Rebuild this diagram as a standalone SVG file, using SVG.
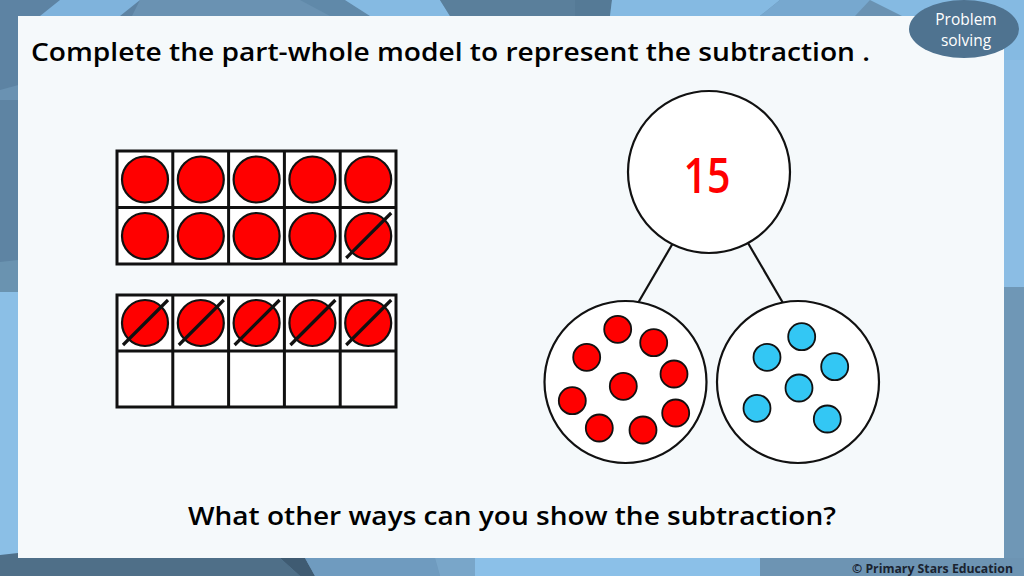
<svg xmlns="http://www.w3.org/2000/svg" xmlns:xlink="http://www.w3.org/1999/xlink" width="1024" height="576" viewBox="0 0 1024 576">
<style>
.frame{fill:#ffffff;stroke:#111111;stroke-width:3}
.cell{fill:none;stroke:#111111;stroke-width:3}
.counter{fill:#ff0000;stroke:#111111;stroke-width:2.2}
.strike{stroke:#111111;stroke-width:3.2;stroke-linecap:butt}
.pw{fill:#ffffff;stroke:#111111;stroke-width:2.2}
.conn{stroke:#111111;stroke-width:2.2}
.red{fill:#ff0000;stroke:#111111;stroke-width:1.8}
.blue{fill:#33c7f4;stroke:#111111;stroke-width:1.8}
.txt{font-family:"Open Sans","Noto Sans","DejaVu Sans",sans-serif;font-weight:600;fill:#000000}
</style>
<defs>
<g id="ctr"><circle class="counter" cx="0" cy="0" r="23"/></g>
<g id="ctrx"><circle class="counter" cx="0" cy="0" r="23"/><line class="strike" x1="-22" y1="22" x2="23" y2="-23"/></g>
</defs>
<g id="background">
<rect x="0" y="0" width="1024" height="576" fill="#6a92b2"/>
<polygon points="0,0 140,0 110,60 0,90" fill="#5d83a3"/>
<polygon points="60,0 140,0 120,16 40,16" fill="#7fb3dc"/>
<polygon points="300,0 345,0 370,16 330,16" fill="#6089a9"/>
<polygon points="345,0 440,0 450,16 370,16" fill="#85bae2"/>
<polygon points="440,0 610,0 610,16 450,16" fill="#5a7f9b"/>
<polygon points="575,0 612,0 610,16 575,16" fill="#557a96"/>
<polygon points="612,0 780,0 760,16 610,16" fill="#85bae2"/>
<polygon points="780,0 870,0 855,16 760,16" fill="#77a8cf"/>
<polygon points="870,0 1024,0 1024,60 990,60" fill="#85bae2"/>
<polygon points="1004,60 1024,60 1024,287 1004,287" fill="#8bbde4"/>
<polygon points="1004,287 1024,287 1024,576 1004,576" fill="#6f97b6"/>
<polygon points="0,100 18,100 18,262 0,262" fill="#5e84a3"/>
<polygon points="0,262 18,260 18,292 0,292" fill="#6a93b0"/>
<polygon points="0,292 18,292 18,555 0,558" fill="#8bbfe6"/>
<polygon points="0,555 18,553 18,576 0,576" fill="#4f6f89"/>
<polygon points="0,558 280,558 300,576 0,576" fill="#4f6f88"/>
<polygon points="280,558 305,558 315,576 300,576" fill="#3f5b72"/>
<polygon points="305,558 435,558 440,576 315,576" fill="#6f9bbf"/>
<polygon points="435,558 475,558 475,576 440,576" fill="#79a6c9"/>
<polygon points="475,558 760,558 760,576 475,576" fill="#8bc0e8"/>
<polygon points="760,558 1024,558 1024,576 760,576" fill="#6d94b3"/>
</g>
<rect id="panel" x="18" y="16" width="986" height="542" fill="#f5f9fb"/>
<g id="badge">
<ellipse cx="964" cy="29" rx="55" ry="29" fill="#4f7390"/>
<text x="966" y="25" text-anchor="middle" font-family="'Open Sans','Noto Sans',sans-serif" font-size="15.5" fill="#ffffff">Problem</text>
<text x="966" y="46" text-anchor="middle" font-family="'Open Sans','Noto Sans',sans-serif" font-size="15.5" fill="#ffffff">solving</text>
</g>
<text id="title" class="txt" x="31" y="61" font-size="26" textLength="839" lengthAdjust="spacingAndGlyphs">Complete the part-whole model to represent the subtraction .</text>
<g id="tenframe1">
<rect class="frame" x="117" y="151" width="279" height="113"/>
<path class="cell" d="M172.8,151V264M228.6,151V264M284.4,151V264M340.2,151V264M117,207.5H396"/>
<use xlink:href="#ctr" x="145" y="179.5"/>
<use xlink:href="#ctr" x="200.8" y="179.5"/>
<use xlink:href="#ctr" x="256.6" y="179.5"/>
<use xlink:href="#ctr" x="312.4" y="179.5"/>
<use xlink:href="#ctr" x="368.2" y="179.5"/>
<use xlink:href="#ctr" x="145" y="236"/>
<use xlink:href="#ctr" x="200.8" y="236"/>
<use xlink:href="#ctr" x="256.6" y="236"/>
<use xlink:href="#ctr" x="312.4" y="236"/>
<use xlink:href="#ctrx" x="368.2" y="236"/>
</g>
<g id="tenframe2">
<rect class="frame" x="117" y="295" width="279" height="112"/>
<path class="cell" d="M172.8,295V407M228.6,295V407M284.4,295V407M340.2,295V407M117,351H396"/>
<use xlink:href="#ctrx" x="145" y="323"/>
<use xlink:href="#ctrx" x="200.8" y="323"/>
<use xlink:href="#ctrx" x="256.6" y="323"/>
<use xlink:href="#ctrx" x="312.4" y="323"/>
<use xlink:href="#ctrx" x="368.2" y="323"/>
</g>
<g id="connectors">
<line class="conn" x1="638" y1="303" x2="673" y2="243"/>
<line class="conn" x1="783" y1="303" x2="748" y2="243"/>
</g>
<g id="whole">
<circle class="pw" cx="709" cy="172" r="81"/>
<text x="707" y="193" text-anchor="middle" font-family="'Open Sans','Noto Sans',sans-serif" font-weight="600" font-size="49" fill="#ff0000" textLength="47" lengthAdjust="spacingAndGlyphs">15</text>
</g>
<g id="part1">
<circle class="pw" cx="625.5" cy="382" r="81"/>
<circle class="red" cx="617.7" cy="329.3" r="13.5"/>
<circle class="red" cx="653.7" cy="342.7" r="13.5"/>
<circle class="red" cx="586.7" cy="357.3" r="13.5"/>
<circle class="red" cx="674" cy="374" r="13.5"/>
<circle class="red" cx="623.3" cy="386.3" r="13.5"/>
<circle class="red" cx="572.3" cy="400.7" r="13.5"/>
<circle class="red" cx="675.7" cy="413" r="13.5"/>
<circle class="red" cx="599.3" cy="428" r="13.5"/>
<circle class="red" cx="643" cy="430" r="13.5"/>
</g>
<g id="part2">
<circle class="pw" cx="798" cy="382" r="81"/>
<circle class="blue" cx="801.7" cy="336.7" r="13.5"/>
<circle class="blue" cx="767" cy="357.3" r="13.5"/>
<circle class="blue" cx="834.7" cy="366.7" r="13.5"/>
<circle class="blue" cx="799" cy="388" r="13.5"/>
<circle class="blue" cx="757" cy="408.3" r="13.5"/>
<circle class="blue" cx="827.3" cy="419" r="13.5"/>
</g>
<text id="question" class="txt" x="188" y="525" font-size="26" textLength="648" lengthAdjust="spacingAndGlyphs">What other ways can you show the subtraction?</text>
<text id="footer" x="852" y="573" font-family="'Open Sans','Noto Sans',sans-serif" font-size="13" font-weight="bold" fill="#1a2330" textLength="161" lengthAdjust="spacingAndGlyphs">© Primary Stars Education</text>
</svg>
